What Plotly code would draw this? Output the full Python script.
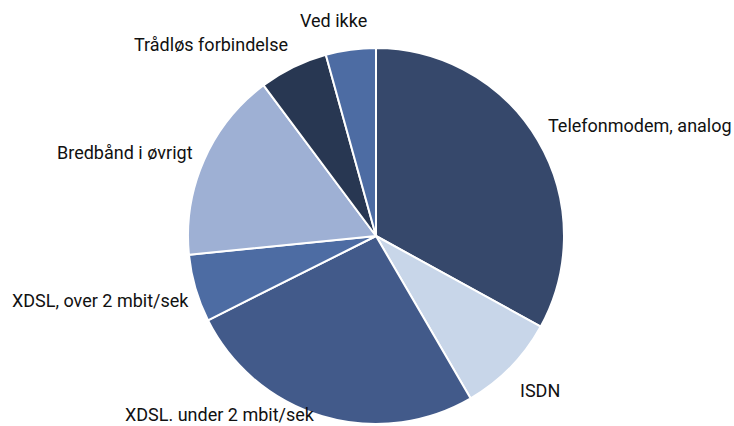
import plotly.graph_objects as go

labels = ["Telefonmodem, analog", "ISDN", "XDSL. under 2 mbit/sek",
          "XDSL, over 2 mbit/sek", "Bredbånd i øvrigt",
          "Trådløs forbindelse", "Ved ikke"]
values = [33.0, 8.6, 26.0, 5.8, 16.4, 5.9, 4.3]
colors = ["#36486b", "#c8d6e9", "#425a8a", "#4d6ca3", "#9eb0d4", "#283752", "#4d6ca3"]

# label anchor points in pixels (left edge, vertical centre)
label_px = [(546, 125), (518, 390), (123, 414), (10, 300), (55, 152), (132, 44), (298, 20)]

W, H = 734, 426

fig = go.Figure(go.Pie(
    labels=labels, values=values, sort=False, direction="clockwise", rotation=0,
    marker=dict(colors=colors, line=dict(color="white", width=2)),
    textinfo="none", showlegend=False, hoverinfo="label+percent",
    domain=dict(x=[188 / W, 564 / W], y=[2 / H, 378 / H]),
))

for lab, (px, py) in zip(labels, label_px):
    fig.add_annotation(
        text=lab, x=px / W, y=1 - py / H, xref="paper", yref="paper",
        xanchor="left", yanchor="middle", showarrow=False,
        font=dict(family="Roboto", size=18, color="#111111"),
    )

fig.update_layout(
    width=W, height=H,
    margin=dict(l=0, r=0, t=0, b=0),
    paper_bgcolor="white",
)

# drop the default 8px body margin so the figure sits at the page corner
fig.write_html("out.html", config={"displayModeBar": False},
               post_script="document.body.style.margin='0px';")
